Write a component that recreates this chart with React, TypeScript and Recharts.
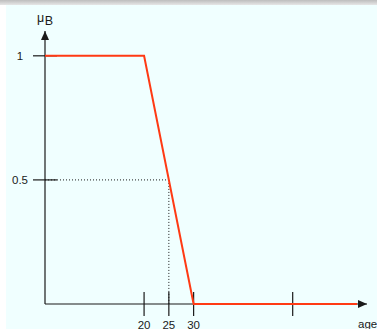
import React from 'react';
import {
  ComposedChart,
  Line,
  XAxis,
  YAxis,
  ReferenceLine,
} from 'recharts';

// membership function of "young" (B) over age
const ages = [0, 20, 30, 63];
const membership = [1, 1, 0, 0];

const xTicks = [20, 25, 30, 50];
const xTickLabels = ['20', '25', '30', ''];
const yTicks = [0.5, 1];
const yTickLabels = ['0.5', '1'];

const crossAge = 25;
const crossValue = 0.5;

const data = ages.map((age, i) => ({ age, mu: membership[i] }));

const FONT = '"Liberation Sans", Arial, sans-serif';
const INK = '#1a1a1a';
const RED = '#ff3a14';

const W = 377;
const H = 329;
const X_DOMAIN: [number, number] = [0, 65];
const Y_DOMAIN: [number, number] = [0, 1.1];

function XTick({ x, y, payload }: any) {
  const i = xTicks.indexOf(payload.value);
  return (
    <g>
      <line x1={x} y1={y - 12} x2={x} y2={y + 12} stroke={INK} strokeWidth={1.2} />
      <text x={x} y={y + 25} textAnchor="middle" fontSize={11.5} fontFamily={FONT} fill={INK}>
        {xTickLabels[i]}
      </text>
    </g>
  );
}

function YTick({ x, y, payload }: any) {
  const i = yTicks.indexOf(payload.value);
  return (
    <g>
      <line x1={x - 12} y1={y} x2={x + 12} y2={y} stroke={INK} strokeWidth={1.2} />
      <text x={x - 25} y={y + 4} textAnchor="middle" fontSize={11.5} fontFamily={FONT} fill={INK}>
        {yTickLabels[i]}
      </text>
    </g>
  );
}

function MuLabel({ viewBox }: any) {
  const ax = viewBox.x + viewBox.width;
  return (
    <text x={ax - 8} y={viewBox.y - 9} fontSize={12.5} fontFamily={FONT} fill={INK}>
      μ<tspan fontSize={12.5} dy={3} dx={0.5}>B</tspan>
    </text>
  );
}

function AgeLabel({ viewBox }: any) {
  return (
    <text x={viewBox.x + viewBox.width - 9} y={viewBox.y + 24} fontSize={11.5} fontFamily={FONT} fill={INK}>
      age
    </text>
  );
}

export default function App() {
  return (
    <div style={{ position: 'fixed', left: 0, top: 0, width: W, height: H, background: '#fff', overflow: 'hidden' }}>
      <div style={{ position: 'absolute', left: 0, top: 0, width: W, height: 5, background: 'linear-gradient(#bdbdbd, #e6e6e6)' }} />
      <div style={{ position: 'absolute', left: 6, top: 5, width: W - 6, height: H - 5, background: '#f0ffff' }} />

      {/* axes, ticks and guide lines */}
      <div style={{ position: 'absolute', left: 0, top: 0 }}>
        <ComposedChart
          width={W}
          height={H}
          data={data}
          margin={{ top: 31, right: 10, bottom: 0, left: 0 }}
        >
          <defs>
            <marker
              id="arrowHead"
              markerWidth={9}
              markerHeight={8}
              refX={9}
              refY={4}
              orient="auto-start-reverse"
              markerUnits="userSpaceOnUse"
            >
              <path d="M0,0 L9,4 L0,8 z" fill={INK} />
            </marker>
          </defs>
          <XAxis
            dataKey="age"
            type="number"
            domain={X_DOMAIN}
            ticks={xTicks}
            interval={0}
            height={25}
            tickSize={0}
            tickMargin={0}
            tickLine={false}
            tick={<XTick />}
            axisLine={{ stroke: INK, strokeWidth: 1.2, markerEnd: 'url(#arrowHead)' }}
            allowDataOverflow
            label={(props: any) => <AgeLabel {...props} />}
          />
          <YAxis
            type="number"
            domain={Y_DOMAIN}
            ticks={yTicks}
            interval={0}
            width={45}
            tickSize={0}
            tickMargin={0}
            tickLine={false}
            tick={<YTick />}
            axisLine={{ stroke: INK, strokeWidth: 1.2, markerStart: 'url(#arrowHead)' }}
            allowDataOverflow
            label={(props: any) => <MuLabel {...props} />}
          />
          <ReferenceLine
            segment={[{ x: 0, y: crossValue }, { x: crossAge, y: crossValue }]}
            stroke={INK}
            strokeWidth={1}
            strokeDasharray="1 2"
            ifOverflow="visible"
          />
          <ReferenceLine
            segment={[{ x: crossAge, y: crossValue }, { x: crossAge, y: 0 }]}
            stroke={INK}
            strokeWidth={1}
            strokeDasharray="1 2"
            ifOverflow="visible"
          />
        </ComposedChart>
      </div>

      {/* membership curve on top of the axes */}
      <div style={{ position: 'absolute', left: 0, top: 0 }}>
        <ComposedChart
          width={W}
          height={H}
          data={data}
          margin={{ top: 31, right: 10, bottom: 25, left: 45 }}
        >
          <XAxis dataKey="age" type="number" domain={X_DOMAIN} hide />
          <YAxis type="number" domain={Y_DOMAIN} hide />
          <Line
            type="linear"
            dataKey="mu"
            stroke={RED}
            strokeWidth={2}
            dot={false}
            activeDot={false}
            isAnimationActive={false}
          />
        </ComposedChart>
      </div>
    </div>
  );
}
